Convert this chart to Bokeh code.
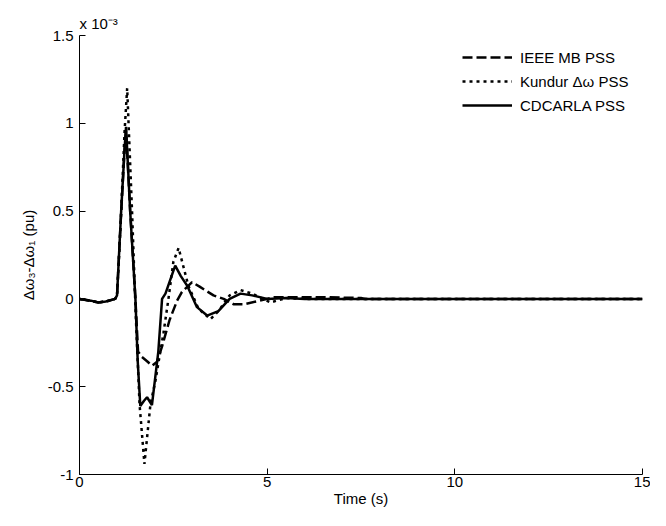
from bokeh.plotting import figure
from bokeh.models import Legend, LegendItem, FixedTicker
from bokeh.embed import file_html
from bokeh.resources import INLINE

# values in units of 1e-3 pu
ieee_t = [0, 0.3, 0.5, 0.7, 0.95, 1.0, 1.1, 1.2, 1.24, 1.35, 1.49, 1.56, 1.66, 1.8, 1.93, 2.06,
          2.2, 2.4, 2.6, 2.73, 3.0, 3.2, 3.57, 3.84, 4.1, 4.4, 4.8, 5.2, 6.4, 7.5, 7.6, 15]
ieee_v = [0, -0.01, -0.02, -0.015, 0, 0.02, 0.45, 0.85, 0.96, 0.5, 0.0, -0.3, -0.33, -0.355, -0.38, -0.36,
          -0.27, -0.12, -0.01, 0.04, 0.095, 0.07, 0.02, 0.0, -0.03, -0.03, -0.01, 0.01, 0.01, 0.005, 0, 0]

kundur_t = [0, 0.3, 0.5, 0.7, 0.95, 1.0, 1.1, 1.2, 1.27, 1.4, 1.5, 1.6, 1.73, 1.89, 2.02, 2.24,
            2.37, 2.5, 2.64, 2.9, 3.17, 3.49, 3.7, 4.0, 4.29, 4.6, 5.09, 5.5, 6.0, 15]
kundur_v = [0, -0.01, -0.02, -0.015, 0, 0.02, 0.45, 0.95, 1.2, 0.5, -0.1, -0.6, -0.94, -0.6, -0.47, -0.19,
            0.0, 0.21, 0.29, 0.075, -0.056, -0.115, -0.07, 0.02, 0.05, 0.03, -0.02, 0.005, 0, 0]

cdcarla_t = [0, 0.3, 0.5, 0.7, 0.95, 1.0, 1.11, 1.2, 1.24, 1.35, 1.49, 1.55, 1.62, 1.72, 1.8, 1.93,
             2.1, 2.2, 2.29, 2.55, 2.7, 2.87, 3.13, 3.4, 3.7, 4.0, 4.29, 4.6, 5.0, 5.5, 6.0, 15]
cdcarla_v = [0, -0.01, -0.02, -0.015, 0, 0.02, 0.5, 0.85, 0.98, 0.5, 0.0, -0.35, -0.61, -0.58, -0.56, -0.605,
             -0.3, 0.0, 0.03, 0.19, 0.13, 0.075, -0.047, -0.095, -0.07, 0.0, 0.03, 0.02, 0.0, 0.005, 0, 0]

series_labels = ["IEEE MB PSS", "Kundur \u0394\u03c9 PSS", "CDCARLA PSS"]
x_ticks = [0, 5, 10, 15]
y_ticks = [-1, -0.5, 0, 0.5, 1, 1.5]
y_tick_labels = ["-1", "-0.5", "0", "0.5", "1", "1.5"]
scale_text = "x 10\u207b\u00b3"

FONT = "Liberation Sans"
FS = "15px"

p = figure(width=650, height=510, x_range=(0, 15), y_range=(-1, 1.5),
           output_backend="svg", toolbar_location=None,
           min_border_left=79, min_border_right=8, min_border_top=35, min_border_bottom=36,
           background_fill_color="white", border_fill_color="white")
p.grid.visible = False
p.outline_line_color = None

p.title.text = scale_text
p.title.align = "left"
p.title.offset = 0
p.title.standoff = 7
p.title.text_font = FONT
p.title.text_font_size = FS
p.title.text_font_style = "normal"
p.title.text_color = "black"

p.xaxis.ticker = FixedTicker(ticks=x_ticks)
p.yaxis.ticker = FixedTicker(ticks=y_ticks)
p.yaxis.major_label_overrides = {v: s for v, s in zip(y_ticks, y_tick_labels)}
p.xaxis.major_label_overrides = {v: str(v) for v in x_ticks}

for ax in (p.xaxis[0], p.yaxis[0]):
    ax.major_tick_in = 6
    ax.major_tick_out = 0
    ax.minor_tick_line_color = None
    ax.axis_line_color = "black"
    ax.major_tick_line_color = "black"
    ax.major_label_text_font = FONT
    ax.major_label_text_font_size = FS
    ax.major_label_text_color = "black"
    ax.axis_label_text_font = FONT
    ax.axis_label_text_font_size = FS
    ax.axis_label_text_font_style = "normal"
    ax.axis_label_text_color = "black"

p.xaxis.axis_label = "Time (s)"
p.xaxis.major_label_standoff = 2
p.xaxis.axis_label_standoff = 0
p.yaxis.axis_label = "\u0394\u03c9\u2083-\u0394\u03c9\u2081 (pu)"
p.yaxis.major_label_standoff = 6
p.yaxis.axis_label_standoff = 8

r1 = p.line(ieee_t, ieee_v, line_color="black", line_width=2.5, line_dash="10 4")
r2 = p.line(kundur_t, kundur_v, line_color="black", line_width=2.5, line_dash="3 4")
r3 = p.line(cdcarla_t, cdcarla_v, line_color="black", line_width=2.5)

legend = Legend(items=[LegendItem(label=series_labels[0], renderers=[r1]),
                       LegendItem(label=series_labels[1], renderers=[r2]),
                       LegendItem(label=series_labels[2], renderers=[r3])],
                location=(383, 359), glyph_width=50, glyph_height=20, label_standoff=8,
                spacing=4, padding=0, margin=0, border_line_color=None,
                background_fill_alpha=0, label_text_font=FONT, label_text_font_size=FS,
                label_text_color="black")
p.add_layout(legend)

open("out.html", "w").write(file_html(p, INLINE))
